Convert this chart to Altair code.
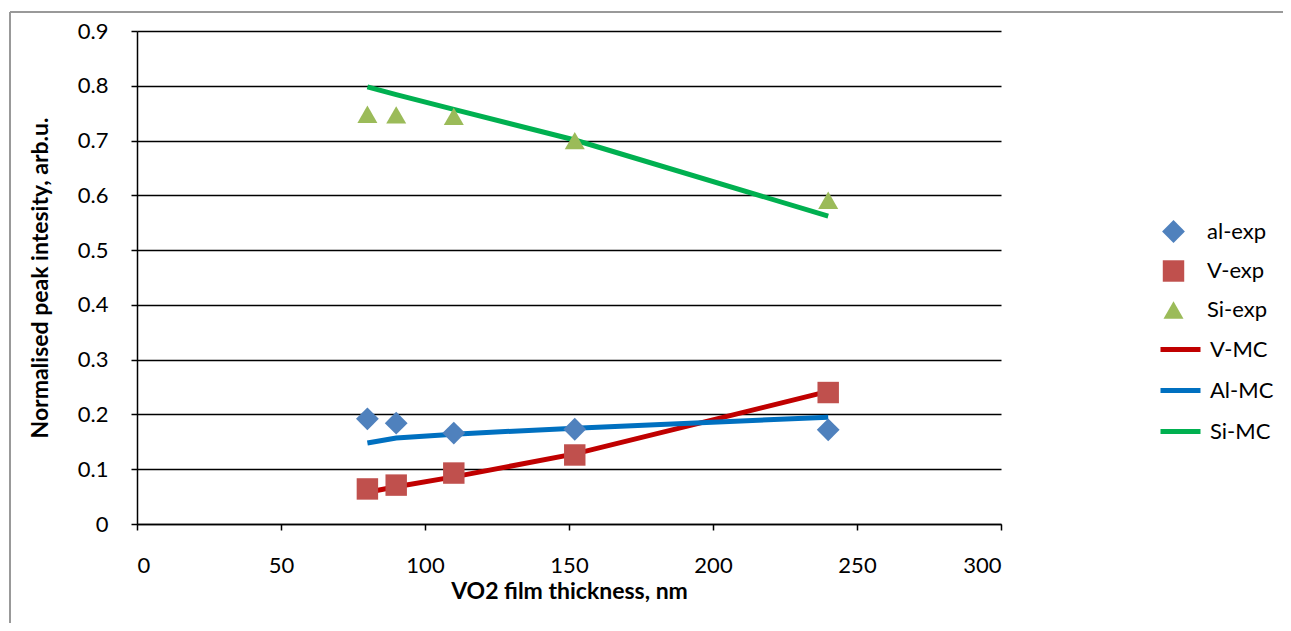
import altair as alt
import pandas as pd

# thickness values (nm)
x_exp = [80, 90, 110, 152, 240]
al_exp = [0.192, 0.184, 0.166, 0.173, 0.172]
v_exp = [0.064, 0.071, 0.093, 0.126, 0.240]
si_exp = [0.748, 0.747, 0.744, 0.700, 0.591]

x_mc = [80, 90, 110, 152, 240]
v_mc = [0.058, 0.068, 0.086, 0.128, 0.242]
al_mc = [0.148, 0.157, 0.164, 0.175, 0.195]
si_mc = [0.798, 0.784, 0.757, 0.701, 0.562]

exp_names = ["al-exp", "V-exp", "Si-exp"]
exp_colors = ["#4F81BD", "#C0504D", "#9BBB59"]
exp_shapes = ["diamond", "square", "triangle-up"]
exp_sizes = [520, 400, 660]
mc_names = ["V-MC", "Al-MC", "Si-MC"]
mc_colors = ["#C00000", "#0070C0", "#00B050"]

FONT = "Lato"

exp_rows = []
for name, vals in zip(exp_names, [al_exp, v_exp, si_exp]):
    for x, y in zip(x_exp, vals):
        exp_rows.append({"x": x, "y": y, "series": name})
exp_df = pd.DataFrame(exp_rows)

mc_rows = []
for name, vals in zip(mc_names, [v_mc, al_mc, si_mc]):
    for x, y in zip(x_mc, vals):
        mc_rows.append({"x": x, "y": y, "series": name})
mc_df = pd.DataFrame(mc_rows)

xs = alt.Scale(domain=[0, 300], nice=False)
ys = alt.Scale(domain=[0, 0.9], nice=False)

x_axis = alt.Axis(title="VO2 film thickness, nm", values=[0, 50, 100, 150, 200, 250, 300],
                  grid=False, labelPadding=25, titlePadding=4)
y_axis = alt.Axis(title="Normalised peak intesity, arb.u.",
                  values=[0, 0.1, 0.2, 0.3, 0.4, 0.5, 0.6, 0.7, 0.8, 0.9],
                  labelExpr="datum.value == 0 ? '0' : format(datum.value, '.1f')",
                  grid=True, labelPadding=23, titlePadding=25)

lines = alt.Chart(mc_df).mark_line(strokeWidth=5).encode(
    x=alt.X("x:Q", scale=xs, axis=x_axis),
    y=alt.Y("y:Q", scale=ys, axis=y_axis),
    stroke=alt.Stroke("series:N", scale=alt.Scale(domain=mc_names, range=mc_colors),
                      legend=alt.Legend(title=None, orient="none", legendX=1021, legendY=296,
                                        symbolType="stroke", symbolStrokeWidth=5, symbolSize=1600,
                                        labelFontSize=22, labelFont=FONT, labelColor="#000",
                                        labelOffset=7, rowPadding=7)),
    detail="series:N",
)

exp_legend = alt.Legend(title=None, orient="none", legendX=1025, legendY=189,
                        symbolStrokeWidth=0, symbolOpacity=1,
                        labelFontSize=22, labelFont=FONT, labelColor="#000",
                        labelOffset=22, rowPadding=17)

points = alt.Chart(exp_df).mark_point(filled=True, opacity=1).encode(
    x=alt.X("x:Q", scale=xs),
    y=alt.Y("y:Q", scale=ys),
    fill=alt.Fill("series:N", scale=alt.Scale(domain=exp_names, range=exp_colors),
                  legend=exp_legend),
    shape=alt.Shape("series:N", scale=alt.Scale(domain=exp_names, range=exp_shapes),
                    legend=exp_legend),
    size=alt.Size("series:N", scale=alt.Scale(domain=exp_names, range=exp_sizes),
                  legend=exp_legend),
)

border_top = alt.Chart(exp_df).mark_rule(color="#999999", strokeWidth=2).encode(
    x=alt.value(-127), x2=alt.value(1200), y=alt.value(-19))
border_left = alt.Chart(exp_df).mark_rule(color="#999999", strokeWidth=2).encode(
    x=alt.value(-127), y=alt.value(-19), y2=alt.value(700))

chart = alt.layer(border_top, border_left, lines, points).properties(
    width=864, height=493,
    padding={"left": 129, "top": 23, "right": 282, "bottom": 99},
    autosize=alt.AutoSizeParams(type="none"),
).configure_view(stroke=None).configure_axis(
    domainColor="#000", domainWidth=1.5, tickColor="#000", tickWidth=1.5, tickSize=6,
    gridColor="#000", gridWidth=1.5, gridOpacity=1,
    labelFont=FONT, labelFontSize=22, labelColor="#000",
    titleFont=FONT, titleFontSize=23, titleFontWeight="bold", titleColor="#000",
)

chart.save("out.html", embed_options={"renderer": "svg", "actions": False})
